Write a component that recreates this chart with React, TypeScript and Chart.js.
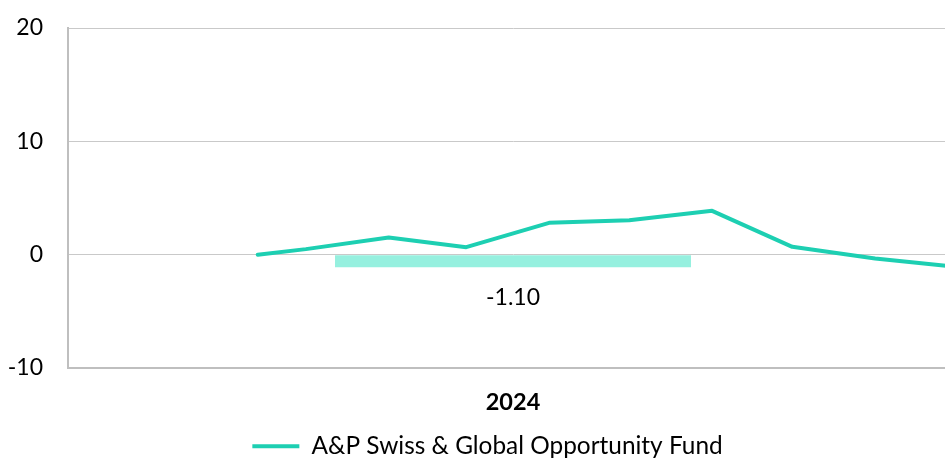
import React, { useEffect, useRef } from "react";
import { Chart, registerables } from "chart.js";

Chart.register(...registerables);

const categories = ["2024"];
const barValues = [-1.1];
const seriesName = "A&P Swiss & Global Opportunity Fund";
const lineDates = [
  "2023-12-13",
  "2023-12-31",
  "2024-01-31",
  "2024-02-29",
  "2024-03-31",
  "2024-04-30",
  "2024-05-31",
  "2024-06-30",
  "2024-07-31",
  "2024-08-31",
];
const lineValues = [0.0, 0.49, 1.52, 0.66, 2.81, 3.04, 3.87, 0.69, -0.34, -1.1];
const yTicks = [-10, 0, 10, 20];

const FONT = "Lato";
const LINE_COLOR = "#1dcfb2";
const BAR_COLOR = "#96f0df";
const GRID_COLOR = "#c9c9c9";
const AXIS_COLOR = "#bfbfbf";

const DAY = 86400000;
const startMs = Date.parse(lineDates[0]);
const toDay = (d: string) => Math.round((Date.parse(d) - startMs) / DAY);
const linePoints = lineDates.map((d, i) => ({ x: toDay(d), y: lineValues[i] }));
const lineAxisMin = -71;
const lineAxisMax = toDay(lineDates[lineDates.length - 1]);

const barLabelPlugin = {
  id: "barLabel",
  afterDatasetsDraw(chart: any) {
    const meta = chart.getDatasetMeta(0);
    const ctx = chart.ctx;
    ctx.save();
    ctx.font = `23px ${FONT}`;
    ctx.fillStyle = "#000";
    ctx.textAlign = "center";
    ctx.textBaseline = "middle";
    meta.data.forEach((el: any, i: number) => {
      const v = barValues[i];
      ctx.fillText(v.toFixed(2), el.x, el.y + (v < 0 ? 30 : -30));
    });
    ctx.restore();
  },
};

export default function App() {
  const ref = useRef<HTMLCanvasElement>(null);
  useEffect(() => {
    if (!ref.current) return;
    const chart = new Chart(ref.current, {
      type: "bar",
      data: {
        labels: categories,
        datasets: [
          {
            type: "bar",
            label: seriesName + " ",
            data: barValues,
            backgroundColor: BAR_COLOR,
            borderWidth: 0,
            xAxisID: "x",
            grouped: false,
            barPercentage: 0.4,
            categoryPercentage: 1,
            order: 2,
          } as any,
          {
            type: "line",
            label: seriesName,
            data: linePoints,
            xAxisID: "xLine",
            borderColor: LINE_COLOR,
            backgroundColor: LINE_COLOR,
            borderWidth: 4,
            borderCapStyle: "round",
            borderJoinStyle: "round",
            pointRadius: 0,
            tension: 0,
            order: 1,
          } as any,
        ],
      },
      options: {
        responsive: false,
        animation: false,
        layout: { padding: { top: 28, right: 0, left: 0, bottom: 0 } },
        plugins: {
          tooltip: { enabled: false },
          legend: {
            position: "bottom",
            maxHeight: 34,
            labels: {
              filter: (item: any) => item.datasetIndex === 1,
              usePointStyle: true,
              pointStyle: "line",
              pointStyleWidth: 47,
              color: "#000",
              padding: 10,
              font: { family: FONT, size: 24.4 },
            },
          },
        },
        scales: {
          x: {
            type: "category",
            position: "bottom",
            offset: true,
            grid: { display: false, drawTicks: false },
            border: { color: AXIS_COLOR, width: 2 },
            ticks: { color: "#000", padding: 20, font: { family: FONT, size: 23.5, weight: "bold" } },
            afterFit: (s: any) => {
              s.height = 56;
            },
          },
          xLine: {
            type: "linear",
            display: false,
            offset: false,
            min: lineAxisMin,
            max: lineAxisMax,
          },
          y: {
            min: yTicks[0],
            max: yTicks[yTicks.length - 1],
            afterBuildTicks: (s: any) => {
              s.ticks = yTicks.map((v) => ({ value: v }));
            },
            afterFit: (s: any) => {
              s.width = 68;
              s.paddingTop = 0;
              s.paddingBottom = 0;
            },
            grid: { color: GRID_COLOR, lineWidth: 1, drawTicks: false },
            border: { color: AXIS_COLOR, width: 2 },
            ticks: { color: "#000", padding: 25, font: { family: FONT, size: 23 } },
          },
          yRight: {
            type: "linear",
            position: "right",
            display: true,
            grid: { display: false, drawTicks: false },
            border: { display: false },
            ticks: { display: false },
            afterFit: (s: any) => {
              s.width = 17;
              s.paddingTop = 0;
              s.paddingBottom = 0;
            },
          },
        },
      },
      plugins: [barLabelPlugin],
    });
    return () => chart.destroy();
  }, []);
  return (
    <div style={{ position: "fixed", left: 0, top: 0, width: 945, height: 458, overflow: "hidden", background: "#fff" }}>
      <canvas ref={ref} width={975} height={458} style={{ width: 975, height: 458, display: "block" }} />
    </div>
  );
}
